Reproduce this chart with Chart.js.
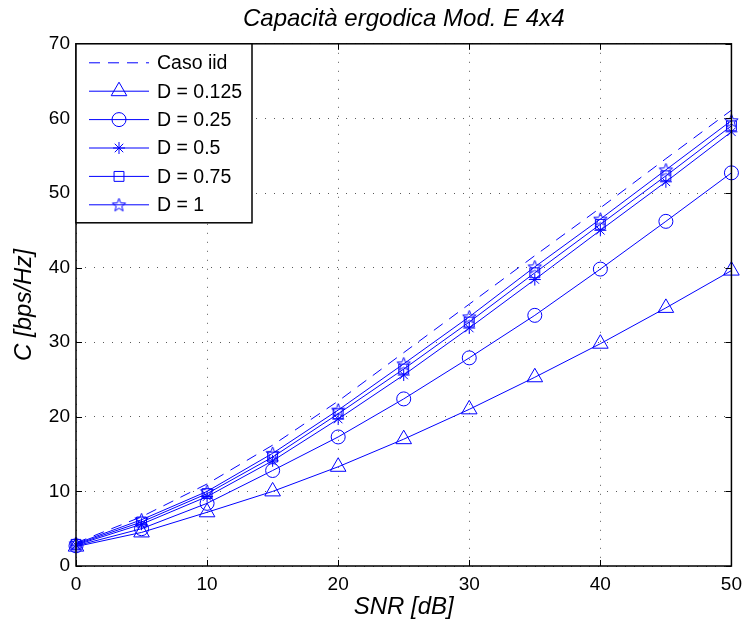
<!DOCTYPE html>
<html>
<head>
<meta charset="utf-8">
<script src="https://cdn.jsdelivr.net/npm/chart.js@4/dist/chart.umd.min.js"></script>
<style>
  body { margin: 0; background: #fff; }
  canvas { display: block; }
</style>
</head>
<body>
<canvas id="myChart" width="749" height="627"></canvas>
<script>
'use strict';

// Data

var snr = [0, 5, 10, 15, 20, 25, 30, 35, 40, 45, 50];
var casoIid = [3.1, 6.6, 11.0, 16.2, 22.1, 28.6, 35.1, 41.6, 48.0, 54.6, 61.1];
var d0125 = [2.6, 4.5, 7.2, 10.0, 13.3, 17.0, 21.0, 25.3, 29.8, 34.6, 39.6];
var d025 = [2.7, 5.0, 8.4, 12.8, 17.3, 22.4, 27.9, 33.6, 39.8, 46.2, 52.7];
var d05 = [2.8, 5.6, 9.3, 14.1, 19.7, 25.6, 31.9, 38.4, 45.0, 51.5, 58.2];
var d075 = [2.9, 5.9, 9.7, 14.6, 20.4, 26.4, 32.7, 39.3, 45.8, 52.3, 59.0];
var d1 = [3.0, 6.2, 10.0, 15.1, 20.9, 27.1, 33.4, 40.1, 46.5, 53.1, 59.7];

var seriesNames = ['Caso iid', 'D = 0.125', 'D = 0.25', 'D = 0.5', 'D = 0.75', 'D = 1'];
var xTicks = [0, 10, 20, 30, 40, 50];
var yTicks = [0, 10, 20, 30, 40, 50, 60, 70];

var BLUE = '#0000ff';
var FONT = "'Liberation Sans', Arial, Helvetica, sans-serif";

// pentagram marker (MATLAB 'p'), Chart.js has no such style
function makePentagram(r) {
  var size = Math.ceil(r * 2 + 3);
  var c = document.createElement('canvas');
  c.width = size;
  c.height = size;
  var g = c.getContext('2d');
  var cx = size / 2, cy = size / 2 + 0.5;
  g.beginPath();
  for (var i = 0; i < 10; i++) {
    var rr = i % 2 === 0 ? r : r * 0.42;
    var a = -Math.PI / 2 + i * Math.PI / 5;
    var px = cx + rr * Math.cos(a);
    var py = cy + rr * Math.sin(a);
    if (i === 0) g.moveTo(px, py); else g.lineTo(px, py);
  }
  g.closePath();
  g.strokeStyle = BLUE;
  g.lineWidth = 1;
  g.stroke();
  return c;
}

var starImg = makePentagram(7);

function toPoints(values) {
  return values.map(function(v, i) {
    return {x: snr[i], y: v};
  });
}

function series(label, values, style, radius, dash) {
  return {
    label: label,
    data: toPoints(values),
    borderColor: BLUE,
    backgroundColor: 'rgba(0,0,0,0)',
    borderWidth: 1,
    borderDash: dash || [],
    pointStyle: style,
    pointRadius: radius,
    pointBorderWidth: 1,
    pointBorderColor: BLUE,
    pointBackgroundColor: 'rgba(0,0,0,0)',
    pointHoverRadius: radius,
    tension: 0,
    clip: false
  };
}

// box, inner ticks and the legend, drawn the matlab way
var matlabFrame = {
  id: 'matlabFrame',
  afterDatasetsDraw: function(chart) {
    var ctx = chart.ctx;
    var a = chart.chartArea;
    var xs = chart.scales.x, ys = chart.scales.y;
    ctx.save();
    ctx.strokeStyle = '#000';
    ctx.lineWidth = 1.5;
    ctx.strokeRect(a.left, a.top, a.right - a.left, a.bottom - a.top);

    ctx.lineWidth = 1;
    ctx.beginPath();
    xTicks.forEach(function(t) {
      var px = Math.round(xs.getPixelForValue(t)) + 0.5;
      ctx.moveTo(px, a.bottom); ctx.lineTo(px, a.bottom - 6);
      ctx.moveTo(px, a.top); ctx.lineTo(px, a.top + 6);
    });
    yTicks.forEach(function(t) {
      var py = Math.round(ys.getPixelForValue(t)) + 0.5;
      ctx.moveTo(a.left, py); ctx.lineTo(a.left + 6, py);
      ctx.moveTo(a.right, py); ctx.lineTo(a.right - 6, py);
    });
    ctx.stroke();

    // legend box
    var lx = a.left, ly = a.top, lw = 176, lh = 179;
    ctx.fillStyle = '#fff';
    ctx.fillRect(lx, ly, lw, lh);
    ctx.lineWidth = 1.5;
    ctx.strokeRect(lx, ly, lw, lh);

    ctx.font = '19.5px ' + FONT;
    ctx.textBaseline = 'middle';
    ctx.textAlign = 'left';
    chart.data.datasets.forEach(function(ds, i) {
      var y = ly + 19 + i * 28.4;
      ctx.strokeStyle = BLUE;
      ctx.lineWidth = 1;
      ctx.setLineDash(ds.borderDash);
      ctx.beginPath();
      ctx.moveTo(lx + 13, y);
      ctx.lineTo(lx + 73, y);
      ctx.stroke();
      ctx.setLineDash([]);
      if (ds.pointRadius > 0) {
        ctx.fillStyle = 'rgba(0,0,0,0)';
        Chart.helpers.drawPoint(ctx, {
          pointStyle: ds.pointStyle,
          radius: ds.pointRadius,
          borderWidth: 1,
          rotation: 0
        }, lx + 43, y);
      }
      ctx.fillStyle = '#000';
      ctx.fillText(ds.label, lx + 81, y + 1);
    });
    ctx.restore();
  }
};

var ctx = document.getElementById('myChart').getContext('2d');

var chartConfig = {
  type: 'line',
  data: {
    datasets: [
      series(seriesNames[0], casoIid, 'circle', 0, [11, 8]),
      series(seriesNames[1], d0125, 'triangle', 9),
      series(seriesNames[2], d025, 'circle', 7),
      series(seriesNames[3], d05, 'star', 6),
      series(seriesNames[4], d075, 'rect', 7),
      series(seriesNames[5], d1, starImg, 7)
    ]
  },
  options: {
    responsive: false,
    animation: false,
    devicePixelRatio: 1,
    layout: {padding: {left: 0, right: 14, top: 0, bottom: 0}},
    plugins: {
      legend: {display: false},
      tooltip: {enabled: false},
      title: {
        display: true,
        fullSize: false,
        text: 'Capacità ergodica Mod. E 4x4',
        color: '#000',
        font: {family: FONT, size: 24, style: 'italic', weight: 'normal'},
        padding: {top: 5, bottom: 10}
      }
    },
    scales: {
      x: {
        type: 'linear',
        min: 0,
        max: 50,
        afterFit: function(scale) { scale.height = 61; },
        afterBuildTicks: function(scale) {
          scale.ticks = xTicks.map(function(v) { return {value: v}; });
        },
        ticks: {color: '#000', font: {family: FONT, size: 19}, padding: 7, maxRotation: 0},
        grid: {color: 'rgba(0,0,0,0.65)', drawTicks: false},
        border: {display: false, dash: [1, 8]},
        title: {
          display: true,
          text: 'SNR [dB]',
          color: '#000',
          font: {family: FONT, size: 24, style: 'italic'},
          padding: {top: 0, bottom: 5}
        }
      },
      y: {
        type: 'linear',
        min: 0,
        max: 70,
        afterFit: function(scale) { scale.width = 76; },
        afterBuildTicks: function(scale) {
          scale.ticks = yTicks.map(function(v) { return {value: v}; });
        },
        ticks: {color: '#000', font: {family: FONT, size: 19}, padding: 6},
        grid: {color: 'rgba(0,0,0,0.65)', drawTicks: false},
        border: {display: false, dash: [1, 8]},
        title: {
          display: true,
          text: 'C [bps/Hz]',
          color: '#000',
          font: {family: FONT, size: 24, style: 'italic'},
          padding: {top: 10, bottom: 0}
        }
      }
    }
  },
  plugins: [matlabFrame]
};

var capacityChart = new Chart(ctx, chartConfig);
</script>
</body>
</html>
